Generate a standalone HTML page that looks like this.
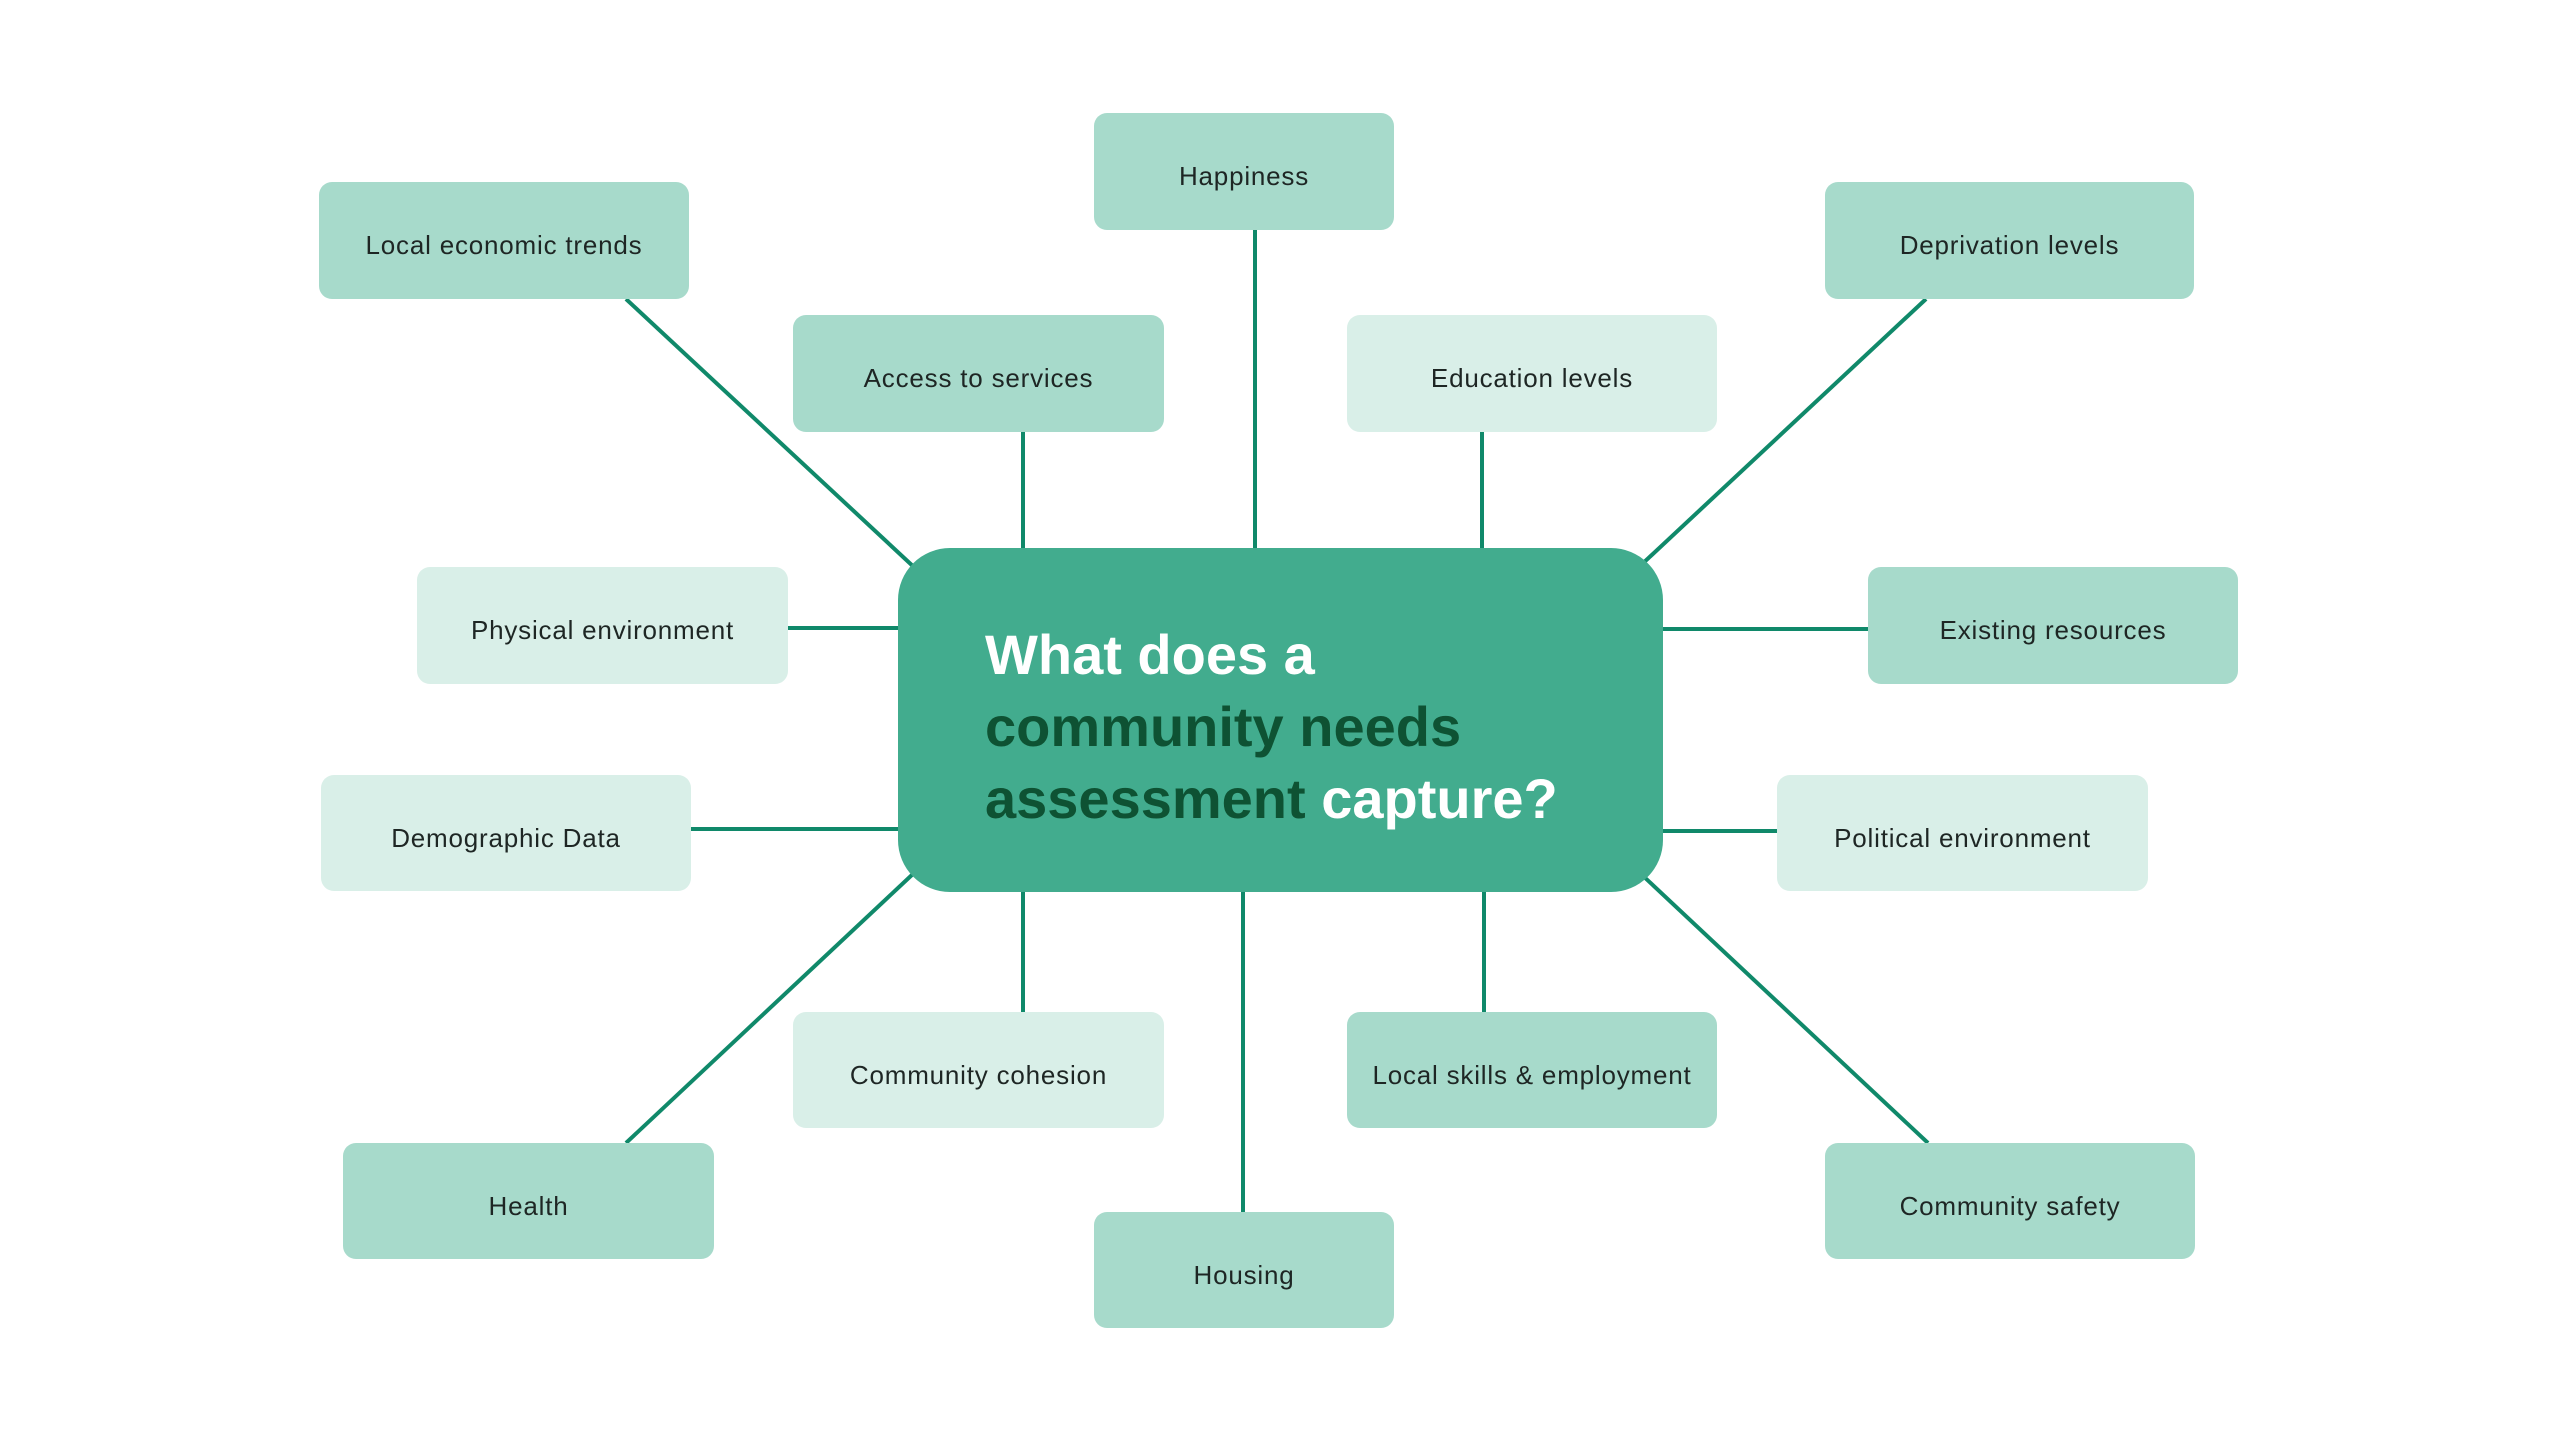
<!DOCTYPE html>
<html>
<head>
<meta charset="utf-8">
<style>
  html, body { margin:0; padding:0; background:#ffffff; }
  body { width:2560px; height:1440px; position:relative; overflow:hidden; font-family:"Liberation Sans", sans-serif; }
  svg.lines { position:absolute; left:0; top:0; }
  .b { position:absolute; box-sizing:border-box; border-radius:13px; text-align:center;
       font-size:26px; letter-spacing:0.8px; color:#1e2624; padding-top:10px; line-height:107px; white-space:nowrap; }
  .m { background:#a7dacb; }
  .l { background:#d9efe8; }
  .center { position:absolute; left:898px; top:548px; width:765px; height:344px; background:#42ac8e; border-radius:52px; }
  .ct { position:absolute; left:985px; top:619px; font-size:56px; font-weight:bold; line-height:72px; color:#ffffff; white-space:nowrap; }
  .dk { color:#0e5233; }
</style>
</head>
<body>
<svg class="lines" width="2560" height="1440" viewBox="0 0 2560 1440">
  <g stroke="#10896a" stroke-width="4" fill="none" stroke-linecap="butt">
    <line x1="626" y1="299" x2="930" y2="582"/>
    <line x1="1023" y1="432" x2="1023" y2="560"/>
    <line x1="1255" y1="230" x2="1255" y2="560"/>
    <line x1="1482" y1="432" x2="1482" y2="560"/>
    <line x1="1926" y1="299" x2="1625" y2="580"/>
    <line x1="788" y1="628" x2="910" y2="628"/>
    <line x1="1650" y1="629" x2="1868" y2="629"/>
    <line x1="691" y1="829" x2="910" y2="829"/>
    <line x1="1650" y1="831" x2="1777" y2="831"/>
    <line x1="626" y1="1143" x2="930" y2="858"/>
    <line x1="1023" y1="880" x2="1023" y2="1012"/>
    <line x1="1243" y1="880" x2="1243" y2="1212"/>
    <line x1="1484" y1="880" x2="1484" y2="1012"/>
    <line x1="1928" y1="1143" x2="1625" y2="859"/>
  </g>
</svg>

<div class="b m" style="left:319px;top:182px;width:370px;height:117px;">Local economic trends</div>
<div class="b m" style="left:793px;top:315px;width:371px;height:117px;">Access to services</div>
<div class="b m" style="left:1094px;top:113px;width:300px;height:117px;">Happiness</div>
<div class="b l" style="left:1347px;top:315px;width:370px;height:117px;">Education levels</div>
<div class="b m" style="left:1825px;top:182px;width:369px;height:117px;">Deprivation levels</div>
<div class="b l" style="left:417px;top:567px;width:371px;height:117px;">Physical environment</div>
<div class="b m" style="left:1868px;top:567px;width:370px;height:117px;">Existing resources</div>
<div class="b l" style="left:321px;top:775px;width:370px;height:116px;">Demographic Data</div>
<div class="b l" style="left:1777px;top:775px;width:371px;height:116px;">Political environment</div>
<div class="b m" style="left:343px;top:1143px;width:371px;height:116px;">Health</div>
<div class="b l" style="left:793px;top:1012px;width:371px;height:116px;">Community cohesion</div>
<div class="b m" style="left:1094px;top:1212px;width:300px;height:116px;">Housing</div>
<div class="b m" style="left:1347px;top:1012px;width:370px;height:116px;">Local skills &amp; employment</div>
<div class="b m" style="left:1825px;top:1143px;width:370px;height:116px;">Community safety</div>

<div class="center"></div>
<div class="ct">What does a<br><span class="dk">community needs</span><br><span class="dk">assessment</span> capture?</div>
</body>
</html>
